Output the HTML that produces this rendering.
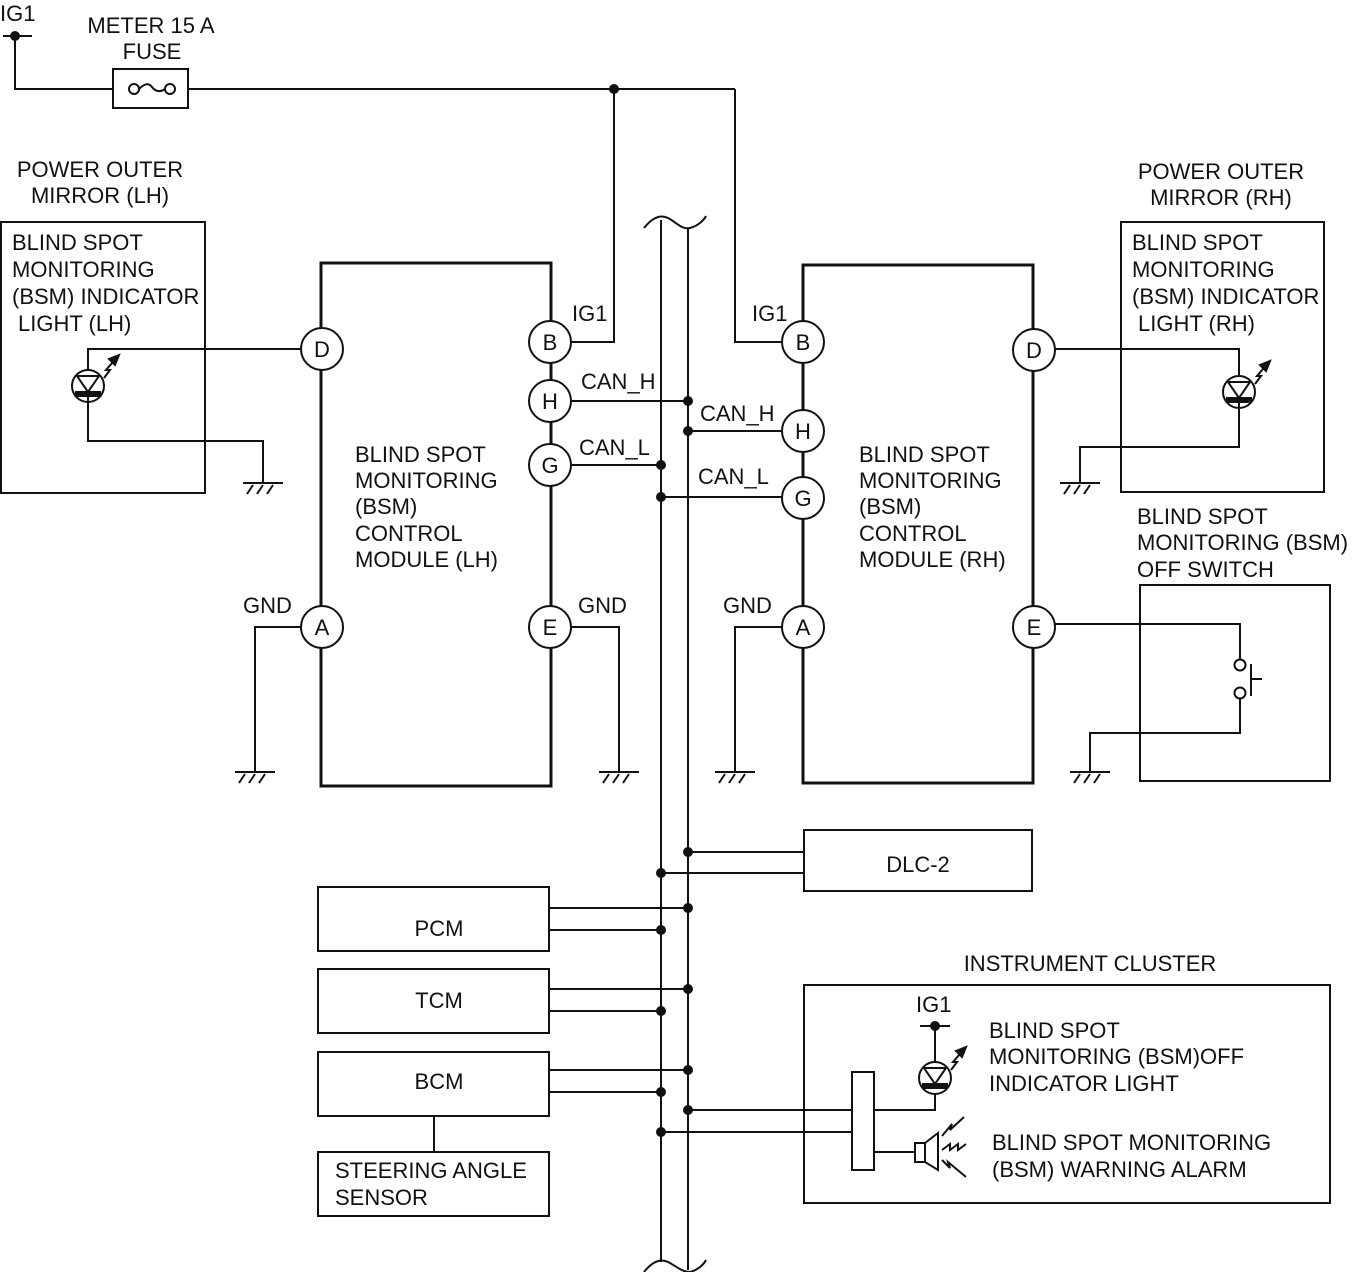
<!DOCTYPE html>
<html><head><meta charset="utf-8"><style>
html,body{margin:0;padding:0;background:#fff;}
svg{display:block;}
text{font-family:"Liberation Sans",sans-serif;font-size:22px;fill:#111;}
</style></head><body>
<svg width="1368" height="1272" viewBox="0 0 1368 1272" xmlns="http://www.w3.org/2000/svg">
<defs>
<g id="gnd" stroke="#111" stroke-width="2" fill="none">
<line x1="-20" y1="0" x2="20" y2="0"/>
<line x1="-10" y1="2" x2="-16" y2="11"/>
<line x1="0" y1="2" x2="-6" y2="11"/>
<line x1="10" y1="2" x2="4" y2="11"/>
</g>
<g id="led" stroke="#111" stroke-width="2" fill="none">
<circle cx="0" cy="0" r="16"/>
<polygon points="-11,-10 11,-10 0,6"/>
<rect x="-12" y="6" width="24" height="4" fill="#111"/>
<polyline points="16,-8 22,-16 18,-16 30,-30"/>
<polygon points="31,-31 21,-27 27,-21" fill="#111"/>
</g>
</defs>
<g stroke="#111" stroke-width="2" fill="none">
<line x1="3" y1="36" x2="32" y2="36"/>
<polyline points="15,36 15,89 113,89"/>
<rect x="113" y="69" width="75" height="39"/>
<line x1="188" y1="89" x2="735" y2="89"/>
<circle cx="134" cy="89" r="5"/><circle cx="170" cy="89" r="5"/>
<path d="M139,89 C145,83 149,83 152,87 C155,91 159,93 165,89"/>
<polyline points="614,89 614,342 571,342"/>
<polyline points="735,89 735,342 782,342"/>
<rect x="321" y="263" width="230" height="523" stroke-width="3"/>
<rect x="803" y="265" width="230" height="518" stroke-width="3"/>
<line x1="661" y1="220" x2="661" y2="1262"/>
<line x1="688" y1="228" x2="688" y2="1270"/>
<path d="M644,228 C652,218 660,214 668,218 C676,222 682,230 690,228 C698,226 704,220 706,216"/>
<path d="M644,1272 C652,1262 660,1258 668,1262 C676,1266 682,1272 690,1272 C698,1270 704,1264 706,1260"/>
<line x1="571" y1="401" x2="688" y2="401"/>
<line x1="571" y1="465" x2="661" y2="465"/>
<line x1="688" y1="431" x2="782" y2="431"/>
<line x1="661" y1="497" x2="782" y2="497"/>
<rect x="1" y="222" width="204" height="271"/>
<polyline points="301,349 88,349 88,370"/>
<polyline points="88,396 88,441 263,441 263,483"/>
<polyline points="301,627 255,627 255,772"/>
<polyline points="571,627 619,627 619,772"/>
<polyline points="782,627 735,627 735,772"/>
<rect x="1121" y="222" width="203" height="270"/>
<polyline points="1055,349 1239,349 1239,376"/>
<polyline points="1239,402 1239,447 1080,447 1080,483"/>
<rect x="1140" y="585" width="190" height="196"/>
<polyline points="1055,624 1240,624 1240,660"/>
<circle cx="1240" cy="665" r="5.5"/><circle cx="1240" cy="693" r="5.5"/>
<polyline points="1240,699 1240,733 1090,733 1090,772"/>
<line x1="1251" y1="664" x2="1251" y2="696"/><line x1="1251" y1="679" x2="1262" y2="679"/>
<rect x="804" y="830" width="228" height="61"/>
<line x1="688" y1="852" x2="804" y2="852"/><line x1="661" y1="873" x2="804" y2="873"/>
<rect x="318" y="887" width="231" height="64"/>
<line x1="549" y1="908" x2="688" y2="908"/><line x1="549" y1="930" x2="661" y2="930"/>
<rect x="318" y="969" width="231" height="64"/>
<line x1="549" y1="989" x2="688" y2="989"/><line x1="549" y1="1011" x2="661" y2="1011"/>
<rect x="318" y="1052" width="231" height="64"/>
<line x1="549" y1="1070" x2="688" y2="1070"/><line x1="549" y1="1092" x2="661" y2="1092"/>
<rect x="318" y="1152" width="231" height="64"/>
<line x1="434" y1="1116" x2="434" y2="1152"/>
<rect x="804" y="985" width="526" height="218"/>
<line x1="688" y1="1110" x2="852" y2="1110"/><line x1="661" y1="1132" x2="852" y2="1132"/>
<rect x="852" y="1072" width="22" height="98"/>
<line x1="920" y1="1026" x2="950" y2="1026"/>
<line x1="935" y1="1026" x2="935" y2="1062"/>
<polyline points="935,1094 935,1110 874,1110"/>
<line x1="874" y1="1152" x2="915" y2="1152"/>
<rect x="915" y="1143" width="10" height="19"/>
<polygon points="925,1143 938,1133 938,1170 925,1162"/>
<polyline points="942,1136 952,1124 950,1130 964,1117"/>
<polyline points="942,1150 950,1144 950,1150 958,1144 958,1150 966,1144"/>
<polyline points="942,1160 950,1168 948,1162 966,1177"/>
</g>
<use href="#led" x="88" y="386"/>
<use href="#led" x="1239" y="392"/>
<use href="#led" x="935" y="1078"/>
<use href="#gnd" x="263" y="483"/>
<use href="#gnd" x="1080" y="483"/>
<use href="#gnd" x="255" y="772"/>
<use href="#gnd" x="619" y="772"/>
<use href="#gnd" x="735" y="772"/>
<use href="#gnd" x="1090" y="772"/>
<g fill="#111">
<circle cx="15" cy="36" r="5"/><circle cx="614" cy="89" r="5"/><circle cx="935" cy="1026" r="5"/>
<circle cx="688" cy="401" r="5"/><circle cx="661" cy="465" r="5"/><circle cx="688" cy="431" r="5"/><circle cx="661" cy="497" r="5"/>
<circle cx="688" cy="852" r="5"/><circle cx="661" cy="873" r="5"/>
<circle cx="688" cy="908" r="5"/><circle cx="661" cy="930" r="5"/>
<circle cx="688" cy="989" r="5"/><circle cx="661" cy="1011" r="5"/>
<circle cx="688" cy="1070" r="5"/><circle cx="661" cy="1092" r="5"/>
<circle cx="688" cy="1110" r="5"/><circle cx="661" cy="1132" r="5"/>
</g>
<g stroke="#111" stroke-width="2" fill="#fff">
<circle cx="322" cy="349" r="21"/><circle cx="550" cy="342" r="21"/><circle cx="550" cy="401" r="21"/>
<circle cx="550" cy="465" r="21"/><circle cx="322" cy="627" r="21"/><circle cx="550" cy="627" r="21"/>
<circle cx="803" cy="342" r="21"/><circle cx="803" cy="431" r="21"/><circle cx="803" cy="498" r="21"/>
<circle cx="1034" cy="350" r="21"/><circle cx="803" cy="627" r="21"/><circle cx="1034" cy="627" r="21"/>
</g>
<g text-anchor="middle">
<text x="322" y="357">D</text><text x="550" y="350">B</text><text x="550" y="409">H</text>
<text x="550" y="473">G</text><text x="322" y="635">A</text><text x="550" y="635">E</text>
<text x="803" y="350">B</text><text x="803" y="439">H</text><text x="803" y="506">G</text>
<text x="1034" y="358">D</text><text x="803" y="635">A</text><text x="1034" y="635">E</text>
<text x="151" y="33">METER 15 A</text><text x="152" y="59">FUSE</text>
<text x="100" y="177">POWER OUTER</text><text x="100" y="203">MIRROR (LH)</text>
<text x="1221" y="179">POWER OUTER</text><text x="1221" y="205">MIRROR (RH)</text>
<text x="1090" y="971">INSTRUMENT CLUSTER</text>
<text x="918" y="872">DLC-2</text><text x="439" y="936">PCM</text><text x="439" y="1008">TCM</text><text x="439" y="1089">BCM</text>
</g>
<text x="0" y="21">IG1</text>
<text x="12" y="250">BLIND SPOT</text><text x="12" y="277">MONITORING</text><text x="12" y="304">(BSM) INDICATOR</text><text x="18" y="331">LIGHT (LH)</text>
<text x="1132" y="250">BLIND SPOT</text><text x="1132" y="277">MONITORING</text><text x="1132" y="304">(BSM) INDICATOR</text><text x="1138" y="331">LIGHT (RH)</text>
<text x="572" y="321">IG1</text><text x="752" y="321">IG1</text>
<text x="581" y="389">CAN_H</text><text x="579" y="455">CAN_L</text>
<text x="700" y="421">CAN_H</text><text x="698" y="484">CAN_L</text>
<text x="355" y="462">BLIND SPOT</text><text x="355" y="488">MONITORING</text><text x="355" y="514">(BSM)</text><text x="355" y="541">CONTROL</text><text x="355" y="567">MODULE (LH)</text>
<text x="859" y="462">BLIND SPOT</text><text x="859" y="488">MONITORING</text><text x="859" y="514">(BSM)</text><text x="859" y="541">CONTROL</text><text x="859" y="567">MODULE (RH)</text>
<text x="1137" y="524">BLIND SPOT</text><text x="1137" y="550">MONITORING (BSM)</text><text x="1137" y="577">OFF SWITCH</text>
<text x="243" y="613">GND</text><text x="578" y="613">GND</text><text x="723" y="613">GND</text>
<text x="916" y="1012">IG1</text>
<text x="989" y="1038">BLIND SPOT</text><text x="989" y="1064">MONITORING (BSM)OFF</text><text x="989" y="1091">INDICATOR LIGHT</text>
<text x="992" y="1150">BLIND SPOT MONITORING</text><text x="992" y="1177">(BSM) WARNING ALARM</text>
<text x="335" y="1178">STEERING ANGLE</text><text x="335" y="1205">SENSOR</text>
</svg>
</body></html>
